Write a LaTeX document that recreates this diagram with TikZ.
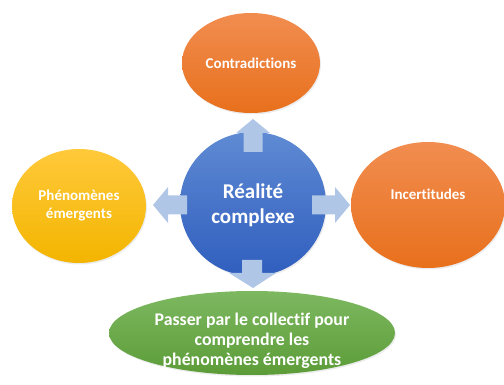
\documentclass[tikz,border=0pt]{standalone}
\usepackage{fontspec}
\setmainfont{Carlito}[Ligatures={NoCommon}]
\usetikzlibrary{shapes.geometric,shadows}
\definecolor{arrowblue}{HTML}{AFC6E6}
\definecolor{bluetop}{HTML}{5F8AD3}
\definecolor{bluebot}{HTML}{2F5EBE}
\definecolor{orangetop}{HTML}{F18D50}
\definecolor{orangebot}{HTML}{E8701C}
\definecolor{yellowtop}{HTML}{FFC93A}
\definecolor{yellowbot}{HTML}{F3B500}
\definecolor{greentop}{HTML}{7DB860}
\definecolor{greenbot}{HTML}{5C9C38}
\tikzset{
  blob/.style={ellipse, inner sep=0pt, draw=none,
    drop shadow={shadow xshift=1pt, shadow yshift=-1.5pt, opacity=0.15}},
  bluefill/.style={top color=bluetop, bottom color=bluebot},
  orangefill/.style={top color=orangetop, bottom color=orangebot},
  yellowfill/.style={top color=yellowtop, bottom color=yellowbot},
  greenfill/.style={top color=greentop, bottom color=greenbot},
  lbl/.style={text=white, font=\bfseries, align=center, inner sep=0pt},
  blockarrow/.style={fill=arrowblue, draw=none}
}
\begin{document}
\begin{tikzpicture}[x=1pt,y=-1pt]
\useasboundingbox (0,0) rectangle (504,385);
% shapes
\node[blob, orangefill, minimum width=138pt, minimum height=100pt] (contra) at (251,63) {};
\node[blob, orangefill, minimum width=154pt, minimum height=126pt] (incert) at (428,205) {};
\node[blob, yellowfill, minimum width=134pt, minimum height=114pt] (pheno) at (79,206) {};
\node[blob, greenfill, minimum width=286pt, minimum height=84pt] (collect) at (252,333) {};
\node[blob, bluefill, minimum width=146pt, minimum height=144pt] (center) at (253,204) {};
% block arrows
\begin{scope}[shift={(center.center)}]
  % up
  \fill[blockarrow] (-9.5,-52) -- (-9.5,-71) -- (-17,-71) -- (0,-85) -- (17,-71) -- (9.5,-71) -- (9.5,-52) -- cycle;
  % right
  \fill[blockarrow] (59,-8.5) -- (82,-8.5) -- (82,-17) -- (97,1) -- (82,19) -- (82,10.5) -- (59,10.5) -- cycle;
  % left
  \fill[blockarrow] (-66,-8.5) -- (-85,-8.5) -- (-85,-17) -- (-100,1) -- (-85,19) -- (-85,10.5) -- (-66,10.5) -- cycle;
  % down
  \fill[blockarrow] (-11,56) -- (-11,69) -- (-24,69) -- (0,84) -- (23,69) -- (9,69) -- (9,56) -- cycle;
\end{scope}
% labels
\node[lbl, font=\bfseries\fontsize{21}{25}\selectfont] (tcenter) at ([yshift=-1pt]center.center) {Réalité\\complexe};
\node[lbl, font=\bfseries\fontsize{15}{18}\selectfont] (tcontra) at (contra.center) {Contradictions};
\node[lbl, font=\bfseries\fontsize{15}{18}\selectfont] (tincert) at ([yshift=11pt]incert.center) {Incertitudes};
\node[lbl, font=\bfseries\fontsize{15}{18}\selectfont] (tpheno) at (pheno.center) {Phénomènes\\émergents};
\node[lbl, font=\bfseries\fontsize{17.8}{19.8}\selectfont] (tcollect) at ([yshift=-8pt]collect.center) {Passer par le collectif pour\\comprendre les\\phénomènes émergents};
\end{tikzpicture}
\end{document}
